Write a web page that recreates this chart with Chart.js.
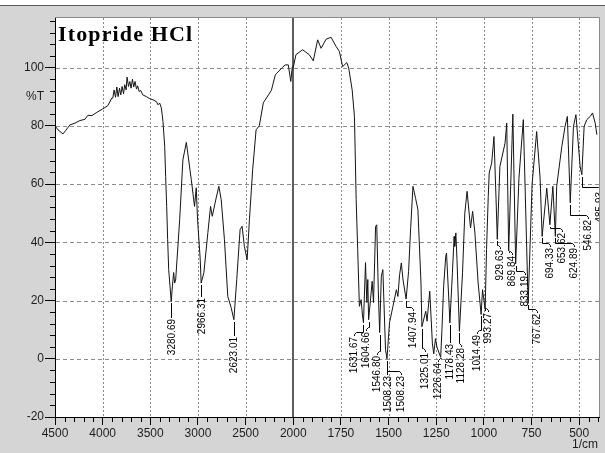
<!DOCTYPE html>
<html>
<head>
<meta charset="utf-8">
<title>Itopride HCl – IR spectrum</title>
<script src="https://cdn.jsdelivr.net/npm/chart.js@4.4.1/dist/chart.umd.min.js"></script>
<style>
  html, body { margin: 0; padding: 0; background: #d5d5d5; }
  canvas { display: block; }
</style>
</head>
<body>
<canvas id="ir" width="605" height="453"></canvas>
<script>
// Wavenumber (1/cm) and transmittance (%T) of the traced spectrum
const wavenumbers = [
  4500, 4469, 4416, 4385, 4343, 4291, 4238, 4186, 4155, 4113,
  4061, 3998, 3946, 3904, 3893, 3880, 3865, 3851, 3838, 3823,
  3810, 3796, 3781, 3768, 3754, 3744, 3729, 3715, 3702, 3687,
  3674, 3660, 3645, 3632, 3618, 3600, 3579, 3541, 3506, 3472,
  3436, 3419, 3402, 3384, 3367, 3349, 3339, 3328, 3318, 3307,
  3280.69, 3268, 3255, 3245, 3234, 3192, 3158, 3122, 3070, 3036,
  3018, 3004, 2976, 2966.31, 2938, 2896, 2868, 2850, 2809, 2781,
  2756, 2722, 2687, 2652, 2623.01, 2593, 2558, 2537, 2513, 2484,
  2460, 2426, 2390, 2356, 2314, 2230, 2188, 2115, 2084, 2052,
  2026, 2010, 2000, 1986, 1951, 1916, 1895, 1872, 1854, 1828,
  1802, 1775, 1758, 1741, 1719, 1709, 1691, 1679, 1670, 1662,
  1653, 1644, 1637, 1631.67, 1621, 1614, 1609, 1604.66, 1586, 1579,
  1568, 1562, 1554, 1546.80, 1538, 1530, 1516, 1508.23, 1495, 1477,
  1459, 1451, 1442, 1433, 1424, 1407.94, 1395, 1384, 1372, 1358,
  1346, 1330, 1325.01, 1305, 1298, 1284, 1270, 1263, 1254, 1246,
  1226.64, 1220, 1211, 1200, 1196, 1183, 1178.43, 1165, 1156, 1153,
  1147, 1141, 1128.28, 1112, 1100, 1088, 1070, 1059, 1047, 1030,
  1014.49, 1007, 993.27, 986, 977, 972, 959, 947, 936, 929.63,
  916, 889, 880, 869.84, 859, 848, 833.19, 816, 793, 767.62,
  747, 723, 705, 694.33, 670, 653.62, 638, 624.89, 618, 591,
  574, 562, 546.82, 530, 517, 495, 485.93, 474, 460, 442,
  430, 416, 407
];
const transmittance = [
  80, 78.6, 77.2, 78.5, 80.3, 80.9, 81.8, 82.2, 83.6, 83.5,
  84.6, 85.8, 86.9, 89.5, 89.5, 92.3, 89.8, 93.3, 90, 92.9,
  90.6, 93.5, 91, 94.1, 92.3, 96.7, 93.5, 95.2, 92.9, 96,
  93.3, 95.2, 92.6, 93.7, 91.8, 92.1, 90.6, 90, 89.3, 88.9,
  88.3, 87.2, 87.8, 86.1, 81.5, 72.9, 62.6, 52.3, 40.9, 30.6,
  19.7, 25, 29.6, 26, 27, 47.7, 68.3, 74.3, 61.5, 52.3,
  58.7, 47.7, 34, 26, 29.5, 43.3, 52.3, 48.9, 55.2, 59.2,
  54.6, 40.9, 21.4, 17.6, 13.4, 27.2, 44.3, 45.5, 38.6, 34,
  47.7, 64.9, 78.6, 80, 87.9, 92.1, 97.5, 100, 100.9, 100.9,
  95.2, 100.3, 100, 104.4, 106.1, 104.4, 102.3, 109.5, 106.6, 109.7,
  110.4, 107.2, 105.5, 100.3, 101.7, 99.8, 92.3, 83.2, 54.6, 37.5,
  18, 20.3, 15, 12.4, 33, 19.3, 27.2, 13.4, 26.6, 19.3,
  45.5, 46, 23.7, 9, 28.3, 30.6, 3.1, 0, 12.4, 18,
  23.7, 21.4, 28.9, 32.9, 27, 20.5, 30, 45, 59.2, 55,
  51.2, 26, 11, 16.3, 12.9, 23.2, 5.1, 1.7, 6.9, 4,
  0.5, 10, 24.9, 35.2, 36.3, 19.2, 12.3, 29.5, 42, 38.6,
  43.2, 34, 9.4, 29.5, 50, 57.5, 44.9, 50.6, 43.2, 26,
  15.2, 23.7, 17, 37.5, 55.7, 63.8, 67.2, 76.3, 54.6, 41,
  66, 74, 80.9, 37, 60, 84, 32.6, 62, 82.1, 19,
  60, 78, 62, 42, 58.6, 46, 59.2, 42, 59.2, 72.9,
  79.8, 83.2, 53.6, 79.8, 83.8, 66, 63.2, 79.8, 82.1, 83.2,
  84.4, 80.9, 76.9
];

// Axis ticks
const xTickLabels = [500, 750, 1000, 1250, 1500, 1750, 2000, 2500, 3000, 3500, 4000, 4500];
const yTickLabels = [-20, 0, 20, 40, 60, 80, 100];

// Picked peaks (1/cm); the text shown is the peak wavenumber
const peakWavenumbers = [
  3280.69, 2966.31, 2623.01, 1631.67, 1604.66, 1546.80, 1508.23, 1508.23,
  1407.94, 1325.01, 1226.64, 1178.43, 1128.28, 1014.49, 993.27, 929.63,
  869.84, 833.19, 767.62, 694.33, 653.62, 624.89, 546.82, 485.93
];
// Where each peak label sits: centre wavenumber and %T at the label's upper end
const peakLabelWn = [
  3276, 2962, 2617, 1679, 1621, 1561, 1503, 1434,
  1374, 1311, 1240, 1179, 1118, 1034, 976, 916,
  850, 784, 721, 655, 592, 526, 455, 390
];
const peakLabelTopT = [
  13.8, 20.7, 7.3, 7.6, 9.3, 0.8, -5.8, -5.8,
  16.2, 2.1, -1.6, 4.9, 3.8, 8.3, 15.8, 37.5,
  35.4, 28.5, 15.5, 38.1, 43.3, 38.1, 47.8, 57.3
];

// The wavenumber axis runs at double density below 2000 1/cm
function axisPos(wn) { return wn > 2000 ? 2000 + (wn - 2000) / 2 : wn; }
function axisWn(p) { return p > 2000 ? Math.round(2000 + (p - 2000) * 2) : Math.round(p); }

const SANS = '"Liberation Sans", Arial, sans-serif';
const SERIF = '"Liberation Serif", "Times New Roman", serif';

const spectrumFrame = {
  id: 'spectrumFrame',
  beforeDraw(chart) {
    const { ctx, width, height, chartArea: a } = chart;
    ctx.save();
    ctx.fillStyle = '#d5d5d5';
    ctx.fillRect(0, 0, width, height);
    ctx.fillStyle = '#ffffff';
    ctx.fillRect(0, 0, width, 5);
    ctx.fillStyle = '#5a5a5a';
    ctx.fillRect(0, 5, width, 1);
    ctx.fillStyle = '#ffffff';
    ctx.fillRect(a.left, a.top, a.right - a.left, a.bottom - a.top);
    ctx.restore();
  },
  beforeDatasetsDraw(chart) {
    const { ctx, chartArea: a, scales: { x, y } } = chart;
    ctx.save();
    ctx.lineWidth = 1;
    ctx.strokeStyle = '#8c8c8c';
    ctx.setLineDash([4, 3]);
    yTickLabels.forEach(v => {
      if (v <= -20) return;
      const py = Math.round(y.getPixelForValue(v)) + 0.5;
      ctx.beginPath(); ctx.moveTo(a.left + 1, py); ctx.lineTo(a.right, py); ctx.stroke();
    });
    ctx.setLineDash([2, 2]);
    xTickLabels.forEach(w => {
      if (w === 4500 || w === 2000) return;
      const px = Math.round(x.getPixelForValue(axisPos(w))) + 0.5;
      ctx.beginPath(); ctx.moveTo(px, a.top); ctx.lineTo(px, a.bottom); ctx.stroke();
    });
    ctx.setLineDash([]);
    ctx.strokeStyle = '#5e5e5e';
    ctx.lineWidth = 2;
    const p2 = Math.round(x.getPixelForValue(axisPos(2000)));
    ctx.beginPath(); ctx.moveTo(p2, a.top); ctx.lineTo(p2, a.bottom); ctx.stroke();
    ctx.restore();
  },
  afterDatasetsDraw(chart) {
    const { ctx, chartArea: a, scales: { x, y } } = chart;
    ctx.save();

    // plot frame: light top and right edges
    ctx.strokeStyle = '#8a8a8a';
    ctx.lineWidth = 1;
    ctx.beginPath();
    ctx.moveTo(a.left, a.top - 0.5); ctx.lineTo(a.right + 0.5, a.top - 0.5);
    ctx.lineTo(a.right + 0.5, a.bottom);
    ctx.stroke();

    // peak labels with leader lines
    ctx.save();
    ctx.beginPath();
    ctx.rect(a.left, a.top, a.right - a.left, a.bottom - a.top);
    ctx.clip();
    ctx.strokeStyle = '#000';
    ctx.fillStyle = '#000';
    ctx.lineWidth = 1;
    ctx.font = '10px ' + SANS;
    peakWavenumbers.forEach((wn, i) => {
      const t = transmittance[wavenumbers.indexOf(wn)];
      const px = Math.round(x.getPixelForValue(axisPos(wn))) + 0.5;
      const py = Math.round(y.getPixelForValue(t));
      const lx = Math.round(x.getPixelForValue(axisPos(peakLabelWn[i]))) + 0.5;
      const top = Math.round(y.getPixelForValue(peakLabelTopT[i]));
      ctx.beginPath();
      ctx.moveTo(px, py + 2);
      if (Math.abs(lx - px) < 1.5) {
        ctx.lineTo(px, top - 1);
      } else {
        const yh = top - 5 + 0.5;
        const dir = lx > px ? 1 : -1;
        ctx.lineTo(px, yh);
        ctx.lineTo(lx - dir * 2, yh);
        ctx.lineTo(lx, yh + 2);
        ctx.lineTo(lx, top - 1);
      }
      ctx.stroke();
      ctx.save();
      ctx.translate(lx, top);
      ctx.rotate(-Math.PI / 2);
      ctx.textAlign = 'right';
      ctx.textBaseline = 'middle';
      ctx.fillText(wn.toFixed(2), 0, 0);
      ctx.restore();
    });
    ctx.restore();

    // minor ticks
    ctx.strokeStyle = '#000';
    ctx.lineWidth = 1;
    ctx.beginPath();
    for (let w = 400; w <= 4500; w += (w < 2000 ? 50 : 100)) {
      if (xTickLabels.includes(w)) continue;
      const px = Math.round(x.getPixelForValue(axisPos(w))) + 0.5;
      if (px > a.right) continue;
      ctx.moveTo(px, a.bottom); ctx.lineTo(px, a.bottom + 5);
    }
    for (let v = -16; v <= 116; v += 4) {
      if (v % 20 === 0) continue;
      const py = Math.round(y.getPixelForValue(v)) + 0.5;
      ctx.moveTo(a.left - 5, py); ctx.lineTo(a.left, py);
    }
    ctx.stroke();

    // axis captions
    ctx.fillStyle = '#1e1e1e';
    ctx.font = '12px ' + SANS;
    ctx.textAlign = 'right';
    ctx.textBaseline = 'middle';
    ctx.fillText('%T', a.left - 11, y.getPixelForValue(90));
    ctx.fillText('1/cm', a.right - 1, 445);

    // sample name
    ctx.fillStyle = '#000';
    ctx.font = 'bold 22px ' + SERIF;
    ctx.textAlign = 'left';
    ctx.textBaseline = 'alphabetic';
    const name = 'Itopride HCl';
    const natural = ctx.measureText(name).width;
    ctx.letterSpacing = Math.max(0, (134 - natural) / (name.length - 1)).toFixed(2) + 'px';
    ctx.fillText(name, a.left + 3, 41);
    ctx.restore();
  }
};

new Chart(document.getElementById('ir'), {
  type: 'scatter',
  data: {
    datasets: [{
      data: wavenumbers.map((w, i) => ({ x: axisPos(w), y: transmittance[i] })),
      showLine: true,
      borderColor: '#141414',
      borderWidth: 1,
      pointRadius: 0,
      tension: 0
    }]
  },
  options: {
    responsive: false,
    animation: false,
    devicePixelRatio: 1,
    layout: { padding: { left: 0, right: 6, top: 18, bottom: 0 } },
    plugins: { legend: { display: false }, tooltip: { enabled: false } },
    scales: {
      x: {
        type: 'linear',
        reverse: true,
        min: axisPos(396),
        max: axisPos(4500),
        afterBuildTicks: s => { s.ticks = xTickLabels.map(w => ({ value: axisPos(w) })); },
        afterFit: s => { s.height = 36; },
        ticks: {
          autoSkip: false, maxRotation: 0, minRotation: 0, padding: 1,
          color: '#1e1e1e', font: { family: SANS, size: 12 },
          callback: v => String(axisWn(v))
        },
        grid: { drawOnChartArea: false, tickLength: 8, tickColor: '#000', tickWidth: 1 },
        border: { color: '#000', width: 1 }
      },
      y: {
        min: -20,
        max: 117,
        afterBuildTicks: s => { s.ticks = yTickLabels.map(v => ({ value: v })); },
        afterFit: s => { s.width = 55; },
        ticks: {
          padding: 1, color: '#1e1e1e', font: { family: SANS, size: 12 },
          callback: v => String(v)
        },
        grid: { drawOnChartArea: false, tickLength: 10, tickColor: '#000', tickWidth: 1 },
        border: { color: '#000', width: 1 }
      }
    }
  },
  plugins: [spectrumFrame]
});
</script>
</body>
</html>
